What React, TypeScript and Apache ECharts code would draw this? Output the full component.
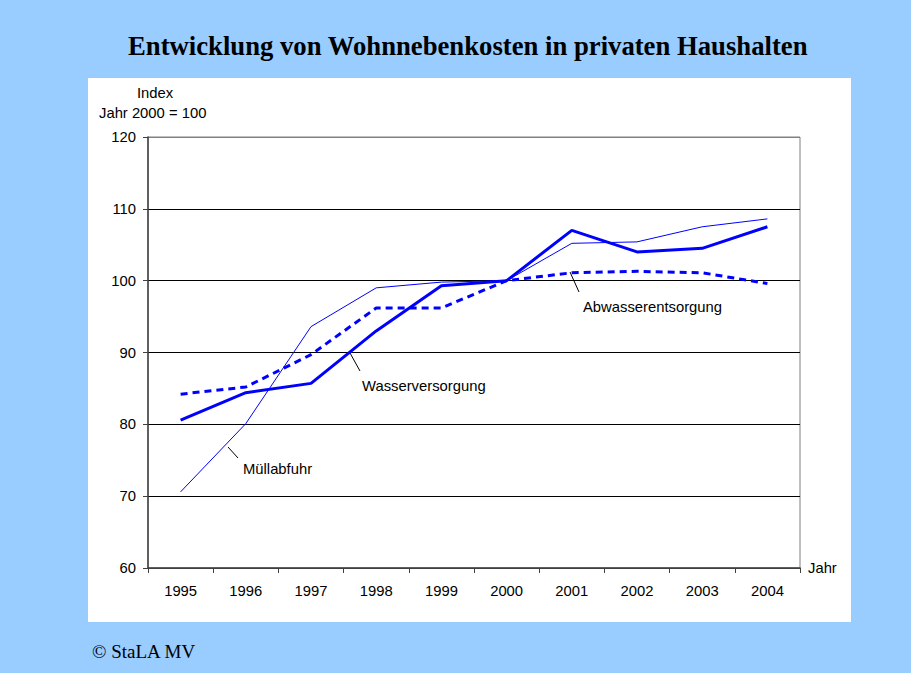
import React, { useEffect, useRef } from "react";
import * as echarts from "echarts";

const years = ["1995", "1996", "1997", "1998", "1999", "2000", "2001", "2002", "2003", "2004"];
const wasserversorgung = [80.6, 84.4, 85.7, 93.0, 99.3, 100, 107.0, 104.0, 104.5, 107.5];
const muellabfuhr = [70.6, 80.1, 93.6, 99.0, 99.8, 100, 105.2, 105.4, 107.5, 108.6];
const abwasserentsorgung = [84.2, 85.2, 89.7, 96.2, 96.2, 100, 101.1, 101.3, 101.1, 99.6];

const FONT = "'Liberation Sans', Arial, sans-serif";
const SERIF = "'Liberation Serif', 'Times New Roman', serif";
const FS = 14.8;

export default function App() {
  const ref = useRef<HTMLDivElement>(null);
  useEffect(() => {
    document.body.style.margin = "0";
    const chart = echarts.init(ref.current!, undefined, { renderer: "svg" });
    const lbl = (text: string, x: number, y: number) => ({
      type: "text",
      x,
      y,
      style: { text, fill: "#000", font: `${FS}px ${FONT}`, textVerticalAlign: "middle" },
      z: 10,
    });
    const leader = (x1: number, y1: number, x2: number, y2: number) => ({
      type: "line",
      shape: { x1, y1, x2, y2 },
      style: { stroke: "#000", lineWidth: 1 },
      z: 10,
    });
    chart.setOption({
      animation: false,
      backgroundColor: "#99CCFF",
      title: {
        text: "Entwicklung von Wohnnebenkosten in privaten Haushalten",
        left: 123,
        top: 27,
        textStyle: { fontFamily: SERIF, fontSize: 26.7, fontWeight: "bold", color: "#000" },
      },
      graphic: [
        { type: "rect", shape: { x: 88, y: 78, width: 763, height: 544 }, style: { fill: "#fff" }, z: -10 },
        { type: "text", x: 155, y: 93, style: { text: "Index", fill: "#000", font: `${FS}px ${FONT}`, textAlign: "center", textVerticalAlign: "middle" } },
        { type: "text", x: 99, y: 113, style: { text: "Jahr 2000 = 100", fill: "#000", font: `${FS}px ${FONT}`, textVerticalAlign: "middle" } },
        {
          type: "text",
          x: 92,
          y: 651,
          style: { text: "© StaLA MV", fill: "#000", font: `19px ${SERIF}`, textVerticalAlign: "middle" },
        },
        lbl("Wasserversorgung", 362, 386),
        leader(350, 353, 360, 371),
        lbl("Müllabfuhr", 243, 469),
        leader(228, 447, 238, 458),
        lbl("Abwasserentsorgung", 583, 307),
        leader(570, 272, 579, 292),
      ],
      grid: {
        left: 148,
        top: 137,
        width: 652,
        height: 431,
        show: true,
        borderColor: "#808080",
        borderWidth: 1,
        backgroundColor: "transparent",
      },
      xAxis: {
        type: "category",
        data: years,
        boundaryGap: true,
        name: "Jahr",
        nameLocation: "end",
        nameGap: 8,
        nameTextStyle: { fontFamily: FONT, fontSize: FS, color: "#000", verticalAlign: "middle", padding: [8, 0, 0, 0] },
        axisLine: { lineStyle: { color: "#404040", width: 1.5 } },
        axisTick: { show: true, length: 5, lineStyle: { color: "#404040" } },
        axisLabel: { fontFamily: FONT, fontSize: FS, color: "#000", margin: 15 },
        splitLine: { show: false },
      },
      yAxis: {
        type: "value",
        min: 60,
        max: 120,
        interval: 10,
        axisLine: { show: true, lineStyle: { color: "#404040", width: 1.5 } },
        axisTick: { show: true, length: 5, lineStyle: { color: "#404040" } },
        axisLabel: { fontFamily: FONT, fontSize: FS, color: "#000", margin: 12 },
        splitLine: {
          show: true,
          lineStyle: { color: ["#404040", "#000", "#000", "#000", "#000", "#000", "#808080"], width: 1 },
        },
      },
      series: [
        {
          name: "Müllabfuhr",
          type: "line",
          data: muellabfuhr,
          symbol: "none",
          lineStyle: { color: "#0000FF", width: 1 },
          z: 3,
        },
        {
          name: "Abwasserentsorgung",
          type: "line",
          data: abwasserentsorgung,
          symbol: "none",
          lineStyle: { color: "#0000FF", width: 3, type: [7, 5] },
          z: 4,
        },
        {
          name: "Wasserversorgung",
          type: "line",
          data: wasserversorgung,
          symbol: "none",
          lineStyle: { color: "#0000FF", width: 3 },
          z: 5,
        },
      ],
    });
    return () => chart.dispose();
  }, []);
  return <div ref={ref} style={{ position: "absolute", left: 0, top: 0, width: 911, height: 673 }} />;
}
